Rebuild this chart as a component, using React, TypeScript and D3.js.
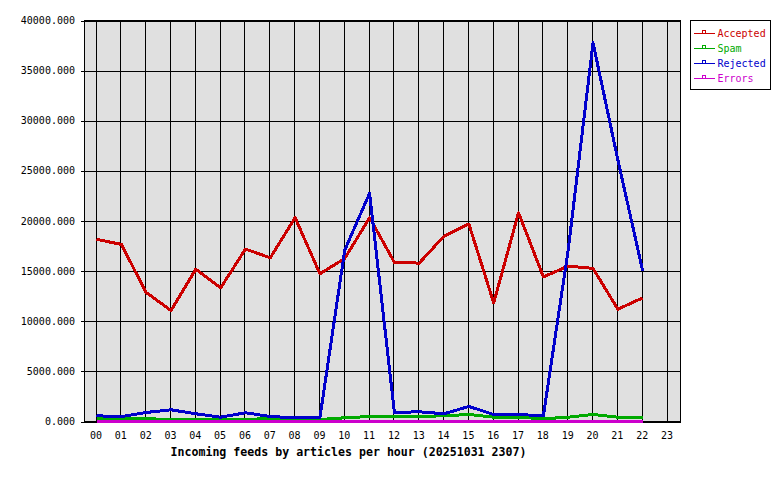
import React from "react";
import * as d3 from "d3";

const hours = ["00","01","02","03","04","05","06","07","08","09","10","11","12","13","14","15","16","17","18","19","20","21","22","23"];
const yTicks = [0, 5000, 10000, 15000, 20000, 25000, 30000, 35000, 40000];

const accepted = [18170, 17670, 12870, 11070, 15200, 13330, 17200, 16330, 20330, 14730, 16270, 20330, 15870, 15800, 18500, 19700, 11830, 20830, 14430, 15500, 15270, 11200, 12330];
const spam = [280, 280, 280, 200, 200, 200, 220, 280, 230, 200, 370, 500, 500, 500, 570, 700, 430, 430, 270, 430, 700, 430, 400];
const rejected = [570, 480, 900, 1170, 770, 430, 870, 500, 370, 400, 17100, 22770, 900, 970, 770, 1500, 700, 700, 570, 17100, 37770, 26100, 15030];
const errors = [30, 30, 30, 30, 30, 30, 30, 30, 30, 30, 30, 30, 30, 30, 30, 30, 30, 30, 30, 30, 30, 30, 30];

const seriesNames = ["Accepted", "Spam", "Rejected", "Errors"];
const seriesData = [accepted, spam, rejected, errors];
const seriesColors = ["#cc0000", "#00aa00", "#0000cc", "#cc00cc"];

const title = "Incoming feeds by articles per hour (20251031 2307)";

export default function App() {
  const left = 84.5, right = 680.5, top = 20.5, bottom = 421.5;
  const x = d3.scaleLinear().domain([0, 23]).range([96, 667]);
  const y = d3.scaleLinear().domain([0, 40000]).range([bottom, top]);
  const line = d3.line<number>().x((_, i) => x(i) + 0.5).y((d) => y(d));
  const fmt = d3.format(".3f");
  const mono = "'DejaVu Sans Mono', 'Liberation Mono', monospace";

  return (
    <svg width={780} height={480} style={{ position: "absolute", left: 0, top: 0, background: "#fff" }}>
      <rect x={left} y={top} width={right - left} height={bottom - top} fill="#e0e0e0" />
      {hours.map((h, i) => (
        <line key={"vg" + h} x1={Math.floor(x(i)) + 0.5} x2={Math.floor(x(i)) + 0.5} y1={top} y2={bottom} stroke="#000" strokeWidth={1} shapeRendering="crispEdges" />
      ))}
      {yTicks.map((t) => (
        <line key={"hg" + t} x1={left - 4} x2={right} y1={Math.round(y(t)) + 0.5} y2={Math.round(y(t)) + 0.5} stroke="#000" strokeWidth={1} shapeRendering="crispEdges" />
      ))}
      <rect x={left} y={top} width={right - left} height={bottom - top} fill="none" stroke="#000" strokeWidth={1} shapeRendering="crispEdges" />
      {seriesData.map((s, k) => (
        <path key={seriesNames[k]} d={line(s) || ""} fill="none" stroke={seriesColors[k]} strokeWidth={3} strokeLinejoin="round" shapeRendering="crispEdges" />
      ))}
      {yTicks.map((t) => (
        <text key={"yl" + t} x={75} y={y(t)} dominantBaseline="central" textAnchor="end" fontFamily={mono} fontSize={10} fill="#000">{fmt(t)}</text>
      ))}
      {hours.map((h, i) => (
        <text key={"xl" + h} x={x(i)} y={435} dominantBaseline="central" textAnchor="middle" fontFamily={mono} fontSize={10} fill="#000">{h}</text>
      ))}
      <text x={348.5} y={452} dominantBaseline="central" textAnchor="middle" fontFamily={mono} fontSize={11.6} fontWeight="bold" fill="#000">{title}</text>
      <rect x={690.5} y={20.5} width={80} height={69} fill="#fff" stroke="#000" strokeWidth={1} shapeRendering="crispEdges" />
      {seriesNames.map((n, k) => {
        const ry = 33.5 + k * 15;
        return (
          <g key={"lg" + n}>
            <line x1={694} x2={715} y1={ry} y2={ry} stroke={seriesColors[k]} strokeWidth={1} shapeRendering="crispEdges" />
            <rect x={702.5} y={ry - 3} width={3} height={3} fill="none" stroke={seriesColors[k]} strokeWidth={1} shapeRendering="crispEdges" />
            <text x={717.5} y={ry - 0.5} dominantBaseline="central" fontFamily={mono} fontSize={10} fill={seriesColors[k]}>{n}</text>
          </g>
        );
      })}
    </svg>
  );
}
